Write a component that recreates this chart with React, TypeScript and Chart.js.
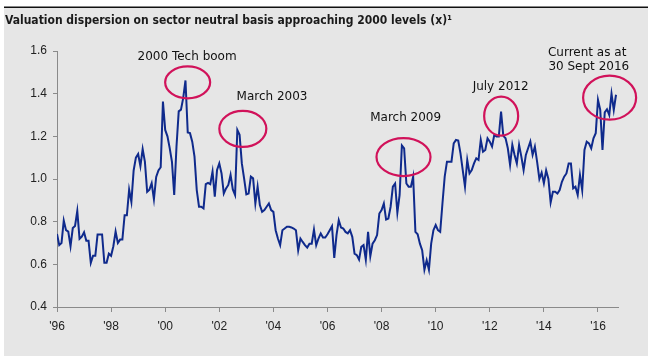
import { useEffect, useRef } from "react";
import { Chart, registerables } from "chart.js";

Chart.register(...registerables);

// ---- data ----
const startYear = 1996;
// monthly valuation dispersion (x), Jan 1996 .. Sep 2016
const dispersion: number[] = [
  0.742, 0.69, 0.70, 0.805, 0.76, 0.753, 0.685, 0.77, 0.78, 0.85, 0.72, 0.73,
  0.75, 0.71, 0.71, 0.607, 0.64, 0.64, 0.74, 0.74, 0.74, 0.607, 0.607, 0.65,
  0.64, 0.685, 0.754, 0.70, 0.716, 0.716, 0.83, 0.83, 0.95, 0.893, 1.04, 1.10,
  1.117, 1.06, 1.14, 1.08, 0.94, 0.95, 0.98, 0.905, 1.01, 1.04, 1.055, 1.363,
  1.23, 1.20, 1.145, 1.08, 0.925, 1.15, 1.317, 1.325, 1.38, 1.462, 1.218, 1.215,
  1.175, 1.105, 0.948, 0.87, 0.87, 0.862, 0.976, 0.982, 0.976, 1.035, 0.917, 1.042,
  1.073, 1.026, 0.932, 0.956, 0.972, 1.019, 0.951, 0.925, 1.23, 1.207, 1.073, 1.003,
  0.928, 0.932, 1.011, 1.003, 0.885, 0.964, 0.878, 0.846, 0.854, 0.87, 0.885, 0.854,
  0.846, 0.76, 0.721, 0.69, 0.76, 0.768, 0.776, 0.776, 0.773, 0.768, 0.76, 0.666,
  0.721, 0.705, 0.69, 0.679, 0.697, 0.697, 0.763, 0.69, 0.721, 0.745, 0.726, 0.726,
  0.741, 0.76, 0.779, 0.63, 0.737, 0.807, 0.773, 0.768, 0.752, 0.745, 0.76, 0.729,
  0.65, 0.643, 0.622, 0.682, 0.69, 0.622, 0.752, 0.638, 0.697, 0.713, 0.737, 0.838,
  0.854, 0.885, 0.81, 0.815, 0.87, 0.964, 0.979, 0.842, 0.925, 1.157, 1.144, 0.979,
  0.964, 0.964, 1.011, 0.752, 0.741, 0.697, 0.666, 0.575, 0.619, 0.575, 0.697, 0.76,
  0.784, 0.76, 0.752, 0.885, 1.011, 1.081, 1.081, 1.081, 1.167, 1.183, 1.18, 1.12,
  1.042, 0.964, 1.089, 1.026, 1.042, 1.073, 1.097, 1.089, 1.183, 1.128, 1.136, 1.191,
  1.175, 1.152, 1.207, 1.199, 1.199, 1.316, 1.202, 1.191, 1.144, 1.066, 1.16, 1.113,
  1.073, 1.16, 1.105, 1.042, 1.113, 1.144, 1.175, 1.113, 1.152, 1.08, 1.0, 1.03,
  0.98, 1.04, 1.0, 0.89, 0.94, 0.94, 0.932, 0.948, 0.987, 1.011, 1.026, 1.073,
  1.073, 0.956, 0.964, 0.925, 1.019, 0.948, 1.136, 1.175, 1.167, 1.144, 1.191, 1.215,
  1.371, 1.324, 1.136, 1.312, 1.327, 1.30, 1.40, 1.324, 1.395,
];

const xTickYears: number[] = [1996, 1998, 2000, 2002, 2004, 2006, 2008, 2010, 2012, 2014, 2016];
const xTickLabels: string[] = ["'96", "'98", "'00", "'02", "'04", "'06", "'08", "'10", "'12", "'14", "'16"];
const yTickValues: number[] = [0.4, 0.6, 0.8, 1.0, 1.2, 1.4, 1.6];
const yTickLabels: string[] = ["0.4", "0.6", "0.8", "1.0", "1.2", "1.4", "1.6"];

const titleText = "Valuation dispersion on sector neutral basis approaching 2000 levels (x)\u00b9";

// annotations anchored in data units (year, value)
const noteTexts: string[] = ["2000 Tech boom", "March 2003", "March 2009", "July 2012", "Current as at", "30 Sept 2016"];
const noteYears: number[] = [2000.81, 2003.95, 2008.89, 2012.4, 2015.6, 2015.66];
const noteValues: number[] = [1.573, 1.385, 1.287, 1.434, 1.589, 1.525];
const circleYears: number[] = [2000.83, 2002.87, 2008.81, 2012.42, 2016.43];
const circleValues: number[] = [1.453, 1.235, 1.103, 1.295, 1.381];

export default function App() {
  const canvasRef = useRef<HTMLCanvasElement | null>(null);

  useEffect(() => {
    const canvas = canvasRef.current;
    if (!canvas) return;

    const circleRadii = [
      [22.5, 16],
      [23.5, 18],
      [27, 19],
      [17, 19.5],
      [26.5, 22],
    ];

    const decor = {
      id: "decor",
      beforeDraw(chart: any) {
        const { ctx, width, height } = chart;
        ctx.save();
        ctx.fillStyle = "#ffffff";
        ctx.fillRect(0, 0, width, height);
        ctx.fillStyle = "#e6e6e6";
        ctx.fillRect(4, 8, width - 4, height - 8);
        ctx.fillStyle = "#111111";
        ctx.fillRect(4, 6.5, width - 4, 1.5);
        // title
        let size = 13;
        ctx.font = `bold ${size}px 'DejaVu Sans Condensed', 'DejaVu Sans', sans-serif`;
        while (ctx.measureText(titleText).width > 453 && size > 8) {
          size -= 0.25;
          ctx.font = `bold ${size}px 'DejaVu Sans Condensed', 'DejaVu Sans', sans-serif`;
        }
        ctx.fillStyle = "#1a1a1a";
        ctx.textAlign = "left";
        ctx.textBaseline = "middle";
        ctx.fillText(titleText, 5, 21);
        ctx.restore();
      },
      afterDatasetsDraw(chart: any) {
        const { ctx } = chart;
        const xs = chart.scales.x;
        const ys = chart.scales.y;
        ctx.save();
        ctx.strokeStyle = "#d1125a";
        ctx.lineWidth = 2.2;
        circleYears.forEach((yr, i) => {
          const cx = xs.getPixelForValue(yr);
          const cy = ys.getPixelForValue(circleValues[i]);
          ctx.beginPath();
          ctx.ellipse(cx, cy, circleRadii[i][0], circleRadii[i][1], 0, 0, Math.PI * 2);
          ctx.stroke();
        });
        ctx.fillStyle = "#111111";
        ctx.font = "12px 'DejaVu Sans', sans-serif";
        ctx.textAlign = "center";
        ctx.textBaseline = "middle";
        noteTexts.forEach((t, i) => {
          ctx.fillText(t, xs.getPixelForValue(noteYears[i]), ys.getPixelForValue(noteValues[i]));
        });
        ctx.restore();
      },
    };

    const chart = new Chart(canvas, {
      type: "line",
      data: {
        datasets: [
          {
            data: dispersion.map((v, i) => ({ x: startYear + i / 12, y: v })),
            borderColor: "#0f2a8c",
            borderWidth: 2,
            pointRadius: 0,
            tension: 0,
            fill: false,
          },
        ],
      },
      options: {
        animation: false,
        responsive: false,
        maintainAspectRatio: false,
        layout: { padding: { left: 0, right: 30, top: 51, bottom: 0 } },
        plugins: { legend: { display: false }, tooltip: { enabled: false }, title: { display: false } },
        scales: {
          x: {
            type: "linear",
            min: 1996,
            max: 2016.74,
            afterFit(scale: any) {
              scale.height = 49;
            },
            afterBuildTicks(scale: any) {
              scale.ticks = xTickYears.map((v) => ({ value: v }));
            },
            grid: { drawOnChartArea: false, drawTicks: true, tickLength: 5, color: "#8a8a8a" },
            border: { display: true, color: "#8a8a8a", width: 1 },
            ticks: {
              autoSkip: false,
              maxRotation: 0,
              padding: 7,
              color: "#222222",
              font: { family: "'Liberation Sans Narrow', 'Liberation Sans', sans-serif", size: 12 },
              callback: (v: any) => {
                const idx = xTickYears.indexOf(Number(v));
                return idx >= 0 ? xTickLabels[idx] : "";
              },
            },
          },
          y: {
            type: "linear",
            min: 0.4,
            max: 1.6,
            afterFit(scale: any) {
              scale.width = 57;
            },
            afterBuildTicks(scale: any) {
              scale.ticks = yTickValues.map((v) => ({ value: v }));
            },
            grid: { drawOnChartArea: false, drawTicks: true, tickLength: 4, color: "#8a8a8a" },
            border: { display: true, color: "#8a8a8a", width: 1 },
            ticks: {
              padding: 6,
              color: "#222222",
              font: { family: "'Liberation Sans', Arial, sans-serif", size: 12 },
              callback: (v: any) => {
                const idx = yTickValues.findIndex((t) => Math.abs(t - Number(v)) < 1e-6);
                return idx >= 0 ? yTickLabels[idx] : "";
              },
            },
          },
        },
      },
      plugins: [decor],
    } as any);

    return () => {
      chart.destroy();
    };
  }, []);

  return (
    <div style={{ position: "fixed", left: 0, top: 0, width: 648, height: 356 }}>
      <canvas ref={canvasRef} width={648} height={356} style={{ display: "block", width: 648, height: 356 }} />
    </div>
  );
}
